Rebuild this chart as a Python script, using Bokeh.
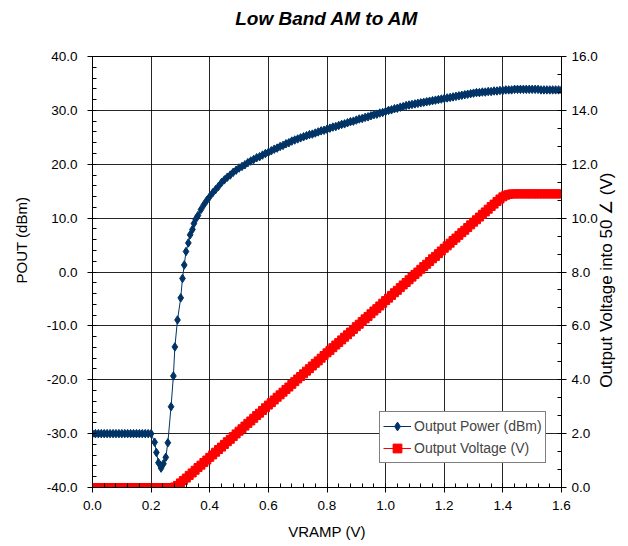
import numpy as np
from bokeh.plotting import figure
from bokeh.models import (Range1d, LinearAxis, SingleIntervalTicker, FixedTicker,
                          NumeralTickFormatter, CustomJSTickFormatter, Legend, LegendItem,
                          Title)
from bokeh.embed import file_html
from bokeh.resources import INLINE

# ---------------- data ----------------
# Output power (dBm) vs VRAMP (V)
power_flat_x = [0.00, 0.01, 0.02, 0.03, 0.04, 0.05, 0.06, 0.07, 0.08, 0.09, 0.10,
                0.11, 0.12, 0.13, 0.14, 0.15, 0.16, 0.17, 0.18, 0.19, 0.20]
power_flat_y = [-30.0, -30.0, -30.0, -30.0, -30.0, -30.0, -30.0, -30.0, -30.0, -30.0, -30.0,
                -30.0, -30.0, -30.0, -30.0, -30.0, -30.0, -30.0, -30.0, -30.0, -30.0]
power_dip_x = [0.212, 0.218, 0.225, 0.234, 0.242, 0.250, 0.257, 0.268, 0.276, 0.281,
               0.290, 0.301, 0.307, 0.313, 0.319, 0.327, 0.333, 0.341, 0.346, 0.352]
power_dip_y = [-31.6, -33.5, -35.4, -36.4, -35.6, -34.4, -31.7, -25.0, -19.3, -13.9,
               -8.9, -4.8, -1.2, 1.3, 3.8, 5.4, 6.9, 7.9, 9.0, 9.8]
power_rest_x = [round(0.36 + 0.01 * i, 2) for i in range(125)]
power_rest_y = [10.5, 11.6, 12.5, 13.3, 14.0,
                14.7, 15.3, 15.9, 16.6, 17.1, 17.6, 18.0, 18.5, 18.9, 19.3,
                19.6, 19.9, 20.3, 20.6, 20.9, 21.2, 21.4, 21.7, 22.0, 22.2,
                22.5, 22.8, 23.0, 23.3, 23.5, 23.8, 24.0, 24.3, 24.5, 24.7,
                24.9, 25.1, 25.3, 25.5, 25.6, 25.8, 26.0, 26.2, 26.3, 26.5,
                26.7, 26.9, 27.0, 27.2, 27.4, 27.5, 27.7, 27.9, 28.0, 28.2,
                28.4, 28.5, 28.7, 28.8, 29.0, 29.2, 29.3, 29.5, 29.6, 29.8,
                30.0, 30.1, 30.3, 30.4, 30.6, 30.7, 30.9, 31.0, 31.1, 31.2,
                31.3, 31.4, 31.5, 31.6, 31.7, 31.8, 31.9, 32.0, 32.1, 32.2,
                32.3, 32.4, 32.5, 32.6, 32.7, 32.8, 32.9, 33.0, 33.1, 33.2,
                33.3, 33.3, 33.4, 33.4, 33.5, 33.5, 33.6, 33.6, 33.7, 33.7,
                33.8, 33.8, 33.8, 33.9, 33.9, 33.9, 33.9, 33.9, 33.9, 33.9,
                33.9, 33.9, 33.8, 33.8, 33.8, 33.8, 33.8, 33.8, 33.8, 33.8]

# Output voltage (V) vs VRAMP (V), every 0.01 V from 0.00 to 1.60
voltage_x = [round(0.01 * i, 2) for i in range(161)]
voltage_y = [0.0, 0.0, 0.0, 0.0, 0.0, 0.0, 0.0, 0.0, 0.0, 0.0,
             0.0, 0.0, 0.0, 0.0, 0.0, 0.0, 0.0, 0.0, 0.0, 0.0,
             0.0, 0.0, 0.0, 0.0, 0.0, 0.0, 0.0, 0.0,
             0.02, 0.08, 0.17, 0.26, 0.35, 0.45, 0.54, 0.64, 0.74, 0.83, 0.93, 1.02, 1.12,
             1.21, 1.31, 1.41, 1.50, 1.60, 1.70, 1.79, 1.89, 1.99, 2.09,
             2.18, 2.28, 2.38, 2.47, 2.57, 2.67, 2.76, 2.86, 2.96, 3.06,
             3.15, 3.25, 3.35, 3.44, 3.54, 3.64, 3.73, 3.83, 3.93, 4.03,
             4.12, 4.22, 4.32, 4.41, 4.51, 4.61, 4.70, 4.80, 4.90, 5.00,
             5.09, 5.19, 5.29, 5.38, 5.48, 5.58, 5.67, 5.77, 5.87, 5.97,
             6.06, 6.16, 6.26, 6.35, 6.45, 6.55, 6.64, 6.74, 6.84, 6.94,
             7.03, 7.13, 7.23, 7.32, 7.42, 7.52, 7.61, 7.71, 7.81, 7.91,
             8.00, 8.10, 8.20, 8.29, 8.39, 8.49, 8.58, 8.68, 8.78, 8.88,
             8.97, 9.07, 9.17, 9.26, 9.36, 9.46, 9.55, 9.65, 9.75, 9.85,
             9.94, 10.04, 10.14, 10.23, 10.33, 10.43, 10.52, 10.62, 10.71, 10.79,
             10.85, 10.88, 10.90,
             10.90, 10.90, 10.90, 10.90, 10.90, 10.90, 10.90, 10.90, 10.90,
             10.90, 10.90, 10.90, 10.90, 10.90, 10.90, 10.90, 10.90]

power_x = power_flat_x + power_dip_x + power_rest_x
power_y = power_flat_y + power_dip_y + power_rest_y

title_text = "Low Band AM to AM"
x_title = "VRAMP (V)"
y_title = "POUT (dBm)"
y2_title = "Output Voltage into 50 \u2220 (V)"
legend_labels = ["Output Power (dBm)", "Output Voltage (V)"]

# ---------------- styling ----------------
FONT = "Liberation Sans"
NAVY = "#003366"
RED = "#FF0000"

# frame position in page pixels
FL, FT, FR, FB = 90, 56, 563, 487
W, H = 628, 546

p = figure(width=W, height=H, output_backend="svg", toolbar_location=None,
           x_range=Range1d(0.0, 1.6), y_range=Range1d(-40.0, 40.0),
           min_border_left=FL, min_border_top=FT, min_border_right=W - FR,
           min_border_bottom=H - FB,
           background_fill_color="white", border_fill_color="white")
p.extra_y_ranges = {"v": Range1d(0.0, 16.0)}

p.outline_line_color = "black"
p.outline_line_width = 1
p.title.text = ""

# keep explicit handles on the default axes before adding any more
xa = p.below[0]
ya = p.left[0]


def bare_axis(ax):
    ax.axis_line_color = None
    ax.major_tick_line_color = None
    ax.minor_tick_line_color = None
    ax.major_tick_in = 0
    ax.minor_tick_in = 0
    ax.minor_tick_out = 0


def style_axis(ax):
    ax.axis_line_color = "black"
    ax.major_tick_line_color = "black"
    ax.minor_tick_line_color = "black"
    ax.major_tick_in = 0
    ax.major_tick_out = 5
    ax.minor_tick_in = 4
    ax.minor_tick_out = 0
    ax.major_label_text_font = FONT
    ax.major_label_text_font_size = "13.5px"
    ax.major_label_text_color = "black"
    ax.axis_label_text_font = FONT
    ax.axis_label_text_font_style = "normal"
    ax.axis_label_text_color = "black"


# bottom axis
xa.ticker = SingleIntervalTicker(interval=0.2, num_minor_ticks=5)
xa.formatter = NumeralTickFormatter(format="0.0")
style_axis(xa)
xa.major_label_standoff = 8
xa.axis_label = x_title
xa.axis_label_text_font_size = "15px"
xa.axis_label_standoff = 10

# left axis
ya.ticker = SingleIntervalTicker(interval=10, num_minor_ticks=5)
ya.formatter = NumeralTickFormatter(format="0.0")
style_axis(ya)
ya.major_label_standoff = 10

# spacer above the frame: one invisible tick with an empty label, then the chart title
top_spacer = LinearAxis(ticker=FixedTicker(ticks=[0.8]),
                        formatter=CustomJSTickFormatter(code="return '';"))
bare_axis(top_spacer)
top_spacer.major_tick_out = 28
top_spacer.major_label_standoff = 0
p.add_layout(top_spacer, "above")
p.add_layout(Title(text=title_text, align="center", vertical_align="bottom", standoff=0,
                   text_font=FONT, text_font_size="19px", text_font_style="bold italic",
                   text_color="black"), "above")

# left axis title, shifted along the axis like the reference
p.add_layout(Title(text=y_title, align="left", offset=FB - 283, vertical_align="top",
                   standoff=24, text_font=FONT, text_font_size="15px",
                   text_font_style="normal", text_color="black"), "left")

# right axis (ticks + numbers)
ra = LinearAxis(y_range_name="v", ticker=SingleIntervalTicker(interval=2, num_minor_ticks=3),
                formatter=NumeralTickFormatter(format="0.0"))
style_axis(ra)
ra.major_label_standoff = 5
p.add_layout(ra, "right")

# right axis title: a single rotated label on a bare outer axis, starting at 3.7 V
la = LinearAxis(y_range_name="v", ticker=FixedTicker(ticks=[3.7]),
                formatter=CustomJSTickFormatter(code="return %r;" % y2_title))
bare_axis(la)
la.major_tick_out = 0
la.major_label_standoff = 6
la.major_label_orientation = np.pi / 2
la.major_label_text_font = FONT
la.major_label_text_font_size = "17px"
la.major_label_text_color = "black"
p.add_layout(la, "right")

# grid
p.xgrid.ticker = SingleIntervalTicker(interval=0.2)
p.ygrid.ticker = SingleIntervalTicker(interval=10)
for g in (p.xgrid[0], p.ygrid[0]):
    g.grid_line_color = "black"
    g.grid_line_alpha = 0.85
    g.grid_line_width = 1

# series
pl = p.line(power_x, power_y, line_color=NAVY, line_width=1)
ps = p.scatter(power_x, power_y, marker="diamond", size=8.5,
               fill_color=NAVY, line_color=NAVY)
vl = p.line(voltage_x, voltage_y, y_range_name="v", line_color=RED, line_width=1)
vs = p.scatter(voltage_x, voltage_y, y_range_name="v", marker="square", size=8,
               fill_color=RED, line_color=RED)

legend = Legend(items=[LegendItem(label=legend_labels[0], renderers=[pl, ps]),
                       LegendItem(label=legend_labels[1], renderers=[vl, vs])],
                location=(287, 24), orientation="vertical")
legend.border_line_color = "black"
legend.border_line_width = 1
legend.background_fill_color = "white"
legend.background_fill_alpha = 1.0
legend.padding = 3
legend.spacing = 0
legend.margin = 0
legend.label_text_font = FONT
legend.label_text_font_size = "14px"
legend.label_height = 22
legend.glyph_height = 22
legend.glyph_width = 28
legend.label_standoff = 3
p.add_layout(legend, "center")

open("out.html", "w").write(file_html(p, INLINE))
